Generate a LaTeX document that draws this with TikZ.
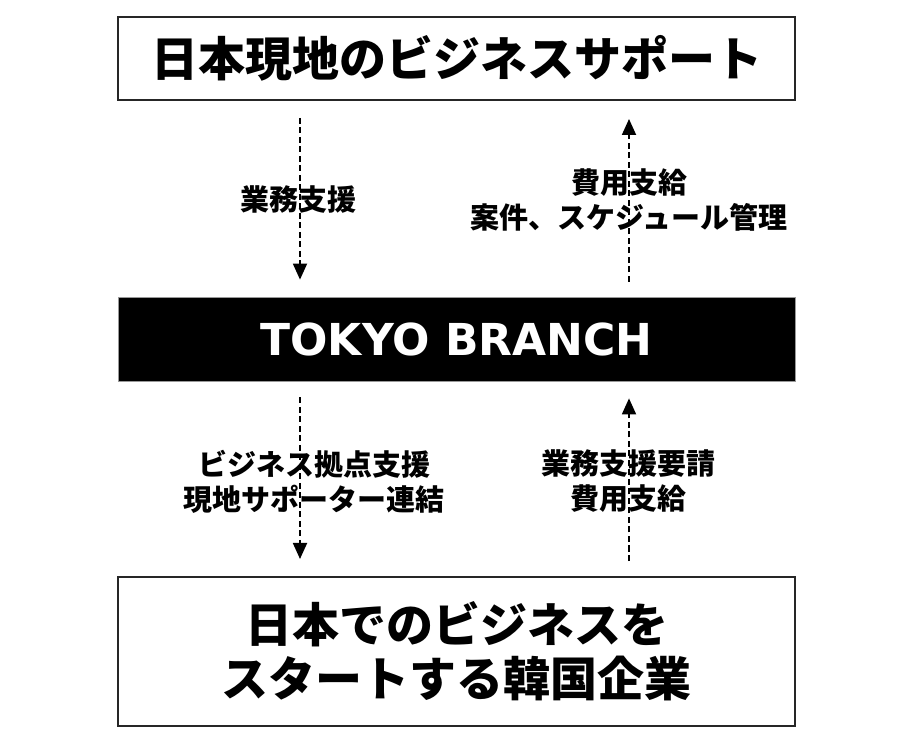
\documentclass[tikz,border=0pt]{standalone}
\usepackage{fontspec}
\setmainfont{Noto Sans CJK JP}
\newfontfamily\latinbold{DejaVu Sans}
\usetikzlibrary{arrows.meta,calc}
\tikzset{
  whitebox/.style={draw=black!85, line width=2pt, fill=white, minimum width=677pt, inner sep=0pt},
  blackbox/.style={draw=black!40, line width=0.8pt, fill=black, minimum width=677pt, minimum height=84pt, inner sep=0pt},
  bigtext/.style={font=\fontsize{47pt}{54pt}\selectfont\bfseries, align=center},
  lbl/.style={font=\fontsize{29pt}{35pt}\selectfont\bfseries, align=center, inner sep=0pt},
  arr/.style={line width=1.8pt, dash pattern=on 6pt off 3.5pt, -{Triangle[length=16pt,width=14pt]}}
}
\begin{document}
\begin{tikzpicture}[x=1pt,y=1pt]
\useasboundingbox (0,0) rectangle (920,747);
\node[whitebox, minimum height=83pt, bigtext] (top) at (456.5,688.5) {日本現地のビジネスサポート};
\node[blackbox, text=white, font=\fontsize{44pt}{50pt}\selectfont\latinbold\bfseries] (mid) at (456.5,408) {TOKYO BRANCH};
\node[whitebox, minimum height=149pt, bigtext] (bot) at (456.5,95.5) {日本でのビジネスを\\スタートする韓国企業};
\coordinate (xl) at (300,0);
\coordinate (xr) at (629,0);
\draw[arr] ($(top.south -| xl)+(0,-17)$) -- ($(mid.north -| xl)+(0,17)$);
\draw[arr] ($(mid.north -| xr)+(0,15)$) -- ($(top.south -| xr)+(0,-18)$);
\draw[arr] ($(mid.south -| xl)+(0,-16)$) -- ($(bot.north -| xl)+(0,17)$);
\draw[arr] ($(bot.north -| xr)+(0,15)$) -- ($(mid.south -| xr)+(0,-17)$);
\node[lbl] (l1) at (298,547) {業務支援};
\node[lbl] (l2) at (629,546.5) {費用支給\\案件、スケジュール管理};
\node[lbl] (l3) at (314,265.5) {ビジネス拠点支援\\現地サポーター連結};
\node[lbl] (l4) at (628,265.5) {業務支援要請\\費用支給};
\end{tikzpicture}
\end{document}
